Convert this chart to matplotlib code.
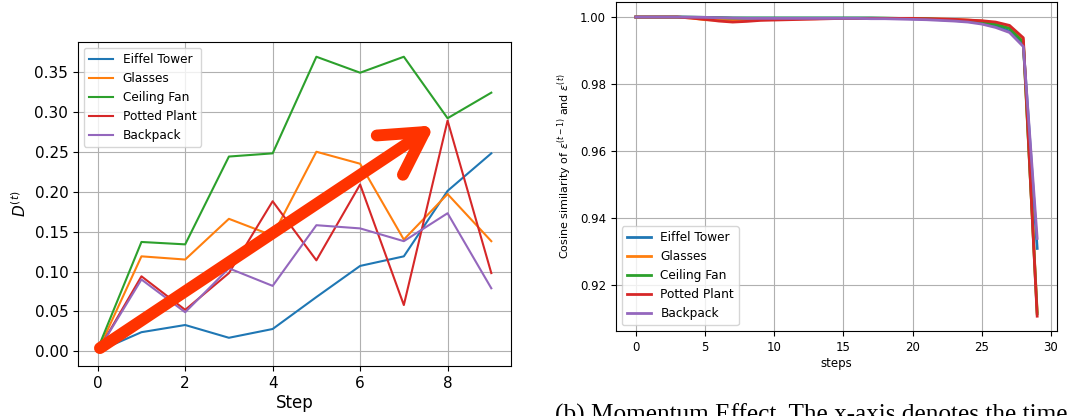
import numpy as np
import matplotlib
matplotlib.use("Agg")
import matplotlib.pyplot as plt

names = ["Eiffel Tower", "Glasses", "Ceiling Fan", "Potted Plant", "Backpack"]

# left panel: D^(t) per step
step = np.arange(10)
d_eiffel = [0.000, 0.024, 0.033, 0.017, 0.028, 0.068, 0.107, 0.119, 0.201, 0.248]
d_glasses = [0.000, 0.119, 0.115, 0.166, 0.145, 0.250, 0.235, 0.140, 0.197, 0.138]
d_fan = [0.003, 0.137, 0.134, 0.244, 0.248, 0.369, 0.349, 0.369, 0.292, 0.324]
d_plant = [0.000, 0.094, 0.052, 0.098, 0.188, 0.114, 0.209, 0.058, 0.289, 0.098]
d_backpack = [0.000, 0.090, 0.049, 0.104, 0.082, 0.158, 0.154, 0.138, 0.173, 0.079]

# right panel: cosine similarity per step
steps = np.arange(30)
c_eiffel = [1.0, 1.0, 1.0, 1.0, 0.99995, 0.9999, 0.9998, 0.9997, 0.9997, 0.9997,
            0.9997, 0.9997, 0.9997, 0.9997, 0.9997, 0.9997, 0.9997, 0.9997, 0.9996, 0.9996,
            0.9995, 0.9994, 0.9992, 0.9990, 0.9987, 0.9982, 0.9973, 0.9958, 0.9915, 0.931]
c_glasses = [1.0, 1.0, 1.0, 1.0, 0.9997, 0.9992, 0.9991, 0.9990, 0.9991, 0.9992,
             0.9993, 0.9994, 0.9995, 0.9995, 0.9996, 0.9996, 0.9996, 0.9996, 0.9996, 0.9996,
             0.9996, 0.9995, 0.9994, 0.9993, 0.9991, 0.9988, 0.9982, 0.9970, 0.9930, 0.912]
c_fan = [1.0, 1.0, 1.0, 1.0, 0.99995, 0.9999, 0.9998, 0.9997, 0.9997, 0.9997,
         0.9997, 0.9997, 0.9997, 0.9997, 0.9997, 0.9997, 0.9997, 0.9997, 0.9997, 0.9996,
         0.9996, 0.9995, 0.9993, 0.9991, 0.9989, 0.9985, 0.9978, 0.9966, 0.9925, 0.9115]
c_plant = [1.0, 1.0, 1.0, 1.0, 0.9997, 0.9993, 0.9988, 0.9985, 0.9987, 0.9990,
           0.9991, 0.9992, 0.9993, 0.9994, 0.9995, 0.9996, 0.9996, 0.9996, 0.9996, 0.9996,
           0.9996, 0.9995, 0.9994, 0.9993, 0.9991, 0.9989, 0.9985, 0.9975, 0.9938, 0.9108]
c_backpack = [1.0, 1.0, 1.0, 1.0, 0.99995, 0.9999, 0.9998, 0.9997, 0.9996, 0.9996,
              0.9996, 0.9996, 0.9996, 0.9996, 0.9996, 0.9996, 0.9996, 0.9995, 0.9995, 0.9994,
              0.9993, 0.9992, 0.9990, 0.9988, 0.9985, 0.9979, 0.9969, 0.9954, 0.9912, 0.934]

caption = "(b) Momentum Effect. The x-axis denotes the time"

fig = plt.figure(figsize=(10.69, 4.16), dpi=100)

# ---- left panel
ax1 = fig.add_axes([0.073, 0.120, 0.405, 0.779])
for vals, name in zip([d_eiffel, d_glasses, d_fan, d_plant, d_backpack], names):
    ax1.plot(step, vals, lw=1.5, label=name)
ax1.grid(True, color="#b0b0b0", lw=0.8)
ax1.set_xticks([0, 2, 4, 6, 8])
ax1.tick_params(labelsize=11)
ax1.set_xlabel("Step", fontsize=12, labelpad=2)
ax1.set_ylabel("$D^{(t)}$", fontsize=11)
ax1.legend(loc="upper left", fontsize=8.7)

# trend arrow
ax1.annotate("", xy=(7.7, 0.283), xytext=(0.05, 0.004),
             arrowprops=dict(arrowstyle="->,head_length=3.0,head_width=1.7",
                             mutation_scale=10, color="#ff3300", lw=8.5,
                             capstyle="round", joinstyle="round",
                             shrinkA=0, shrinkB=0))

# ---- right panel
ax2 = fig.add_axes([0.576, 0.204, 0.413, 0.791])
for vals, name in zip([c_eiffel, c_glasses, c_fan, c_plant, c_backpack], names):
    ax2.plot(steps, vals, lw=2, label=name)
ax2.grid(True, color="#b0b0b0", lw=0.8)
ax2.tick_params(labelsize=8.5)
ax2.set_xlabel("steps", fontsize=8.5, labelpad=2)
ax2.set_ylabel(r"Cosine similarity of $\varepsilon^{(t-1)}$ and $\varepsilon^{(t)}$", fontsize=8)
ax2.legend(loc="lower left", fontsize=8.7)

fig.text(0.519, 0.031, caption, fontsize=18.2, family="Liberation Serif",
         ha="left", va="top")

fig.savefig("out.png", dpi=100)
